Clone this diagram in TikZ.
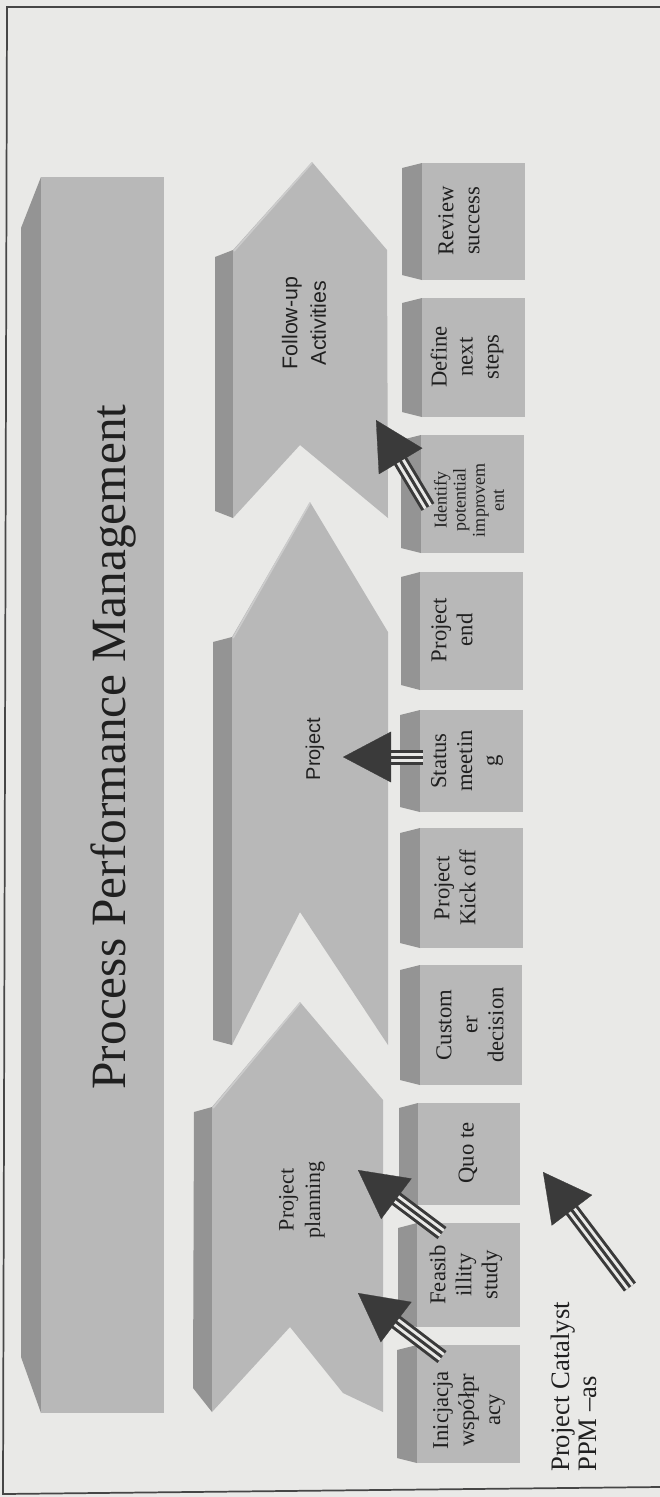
\documentclass[tikz,border=0pt]{standalone}
\usepackage{fontspec}
\setmainfont{Liberation Serif}
\setsansfont{Liberation Sans}
\usetikzlibrary{arrows.meta,calc}
\definecolor{paper}{RGB}{233,233,231}
\definecolor{face}{RGB}{184,184,184}
\definecolor{sideface}{RGB}{148,148,148}
\definecolor{bevel}{RGB}{204,204,204}
\definecolor{ink}{RGB}{58,58,58}
\definecolor{txt}{RGB}{32,32,32}
\definecolor{framecol}{RGB}{70,70,70}

% a striped arrow: three dark stripes in the shaft, solid triangular head
\newcommand\stripedarrow[2]{%
  \coordinate (sa-end) at ($(#2)!30pt!(#1)$);
  \draw[ink, line width=11.25pt] (#1) -- (sa-end);
  \draw[paper, line width=6.75pt] (#1) -- (sa-end);
  \draw[ink, line width=2.25pt] (#1) -- (sa-end);
  \draw[ink, line width=0.2pt, -{Triangle[length=36pt,width=38pt]}] ($(#2)!14pt!(#1)$) -- (#2);
}

\begin{document}
\begin{tikzpicture}[x=0.75pt,y=-0.75pt,
  frontface/.style={fill=face},
  sidefc/.style={fill=sideface},
  bevelline/.style={draw=bevel, line width=1.2pt},
  boxlabel/.style={rotate=90, align=center, text=txt, inner sep=0pt,
    font=\fontsize{17}{19.5}\selectfont},
  smalllabel/.style={boxlabel, font=\fontsize{13.5}{14.3}\selectfont},
  chevlabel/.style={rotate=90, align=center, text=txt, inner sep=0pt,
    font=\fontsize{16.5}{20}\selectfont},
]
% page
\fill[paper] (0,0) rectangle (660,1497);
\useasboundingbox (0,0) rectangle (660,1497);
\draw[framecol, line width=1.3pt] (660,7) -- (7,7) -- (3,1494) -- (660,1487);

% ---- Process Performance Management bar
\fill[sidefc] (21,228) -- (41,177) -- (41,1413) -- (21,1357) -- cycle;
\fill[frontface] (41,177) rectangle (164,1413);
\node[rotate=90, text=txt, inner sep=0pt, font=\fontsize{37}{40}\selectfont]
  (ppm) at (113,747) {Process Performance Management};

% ---- Follow-up Activities chevron
\fill[sidefc] (215,257) -- (233,250) -- (233,518) -- (215,511) -- cycle;
\fill[frontface] (312,162) -- (387,250) -- (388,518) -- (300,445) -- (233,518) -- (233,250) -- cycle;
\draw[bevelline] (312,163) -- (234,251);
\node[chevlabel, font=\sffamily\fontsize{16}{21.5}\selectfont] (fup) at (304,323) {Follow-up\\Activities};

% ---- Project chevron
\fill[sidefc] (213,642) -- (232,637) -- (232,1045) -- (213,1040) -- cycle;
\fill[frontface] (310,502) -- (388,632) -- (388,1045) -- (300,912) -- (232,1045) -- (232,637) -- cycle;
\draw[bevelline] (310,503) -- (233,638);
\node[chevlabel, font=\sffamily\fontsize{15}{18}\selectfont] (prj) at (315,749) {Project};

% ---- Project planning chevron
\fill[sidefc] (194,1112) -- (212,1107) -- (212,1412) -- (193,1388) -- cycle;
\fill[frontface] (300,1002) -- (383,1100) -- (383,1412) -- (343,1393) -- (290,1327) -- (212,1412) -- (212,1107) -- cycle;
\draw[bevelline] (300,1003) -- (213,1108);
\node[chevlabel] (ppl) at (302,1200) {Project\\planning};

% ---- step boxes: side face, front face
\foreach \ya/\yb/\xs/\xf/\xr in {163/280/402/422/525, 298/417/402/422/525, 435/553/401/421/524,
    572/690/401/420/523, 710/812/400/420/523, 828/948/400/420/523, 965/1085/400/420/522,
    1103/1205/399/418/520, 1223/1327/398/417/520, 1345/1463/397/417/520}{
  \fill[sidefc] (\xs,\ya+5) -- (\xf,\ya) -- (\xf,\yb) -- (\xs,\yb-5) -- cycle;
  \fill[frontface] (\xf,\ya) rectangle (\xr,\yb);
}
\node[boxlabel] (rev) at (459,221) {Review\\success};
\node[boxlabel] (def) at (467,357) {Define\\next\\steps};
\node[smalllabel] (idt) at (469,500) {Identify\\potential\\improvem\\ent};
\node[boxlabel] (pend) at (452,630) {Project\\end};
\node[boxlabel] (stat) at (467,761) {Status\\meetin\\g};
\node[boxlabel] (kick) at (455,888) {Project\\Kick off};
\node[boxlabel] (cust) at (470,1025) {Custom\\er\\decision};
\node[boxlabel] (quo) at (468,1153) {Quo te};
\node[boxlabel] (fea) at (466,1275) {Feasib\\illity\\study};
\node[boxlabel] (ini) at (469,1410) {Inicjacja\\współpr\\acy};

% ---- caption
\node[rotate=90, anchor=west, align=left, text=txt, inner sep=0pt,
  font=\fontsize{20}{20.5}\selectfont] (cat) at (574,1472) {Project Catalyst\\PPM --as};

% ---- arrows
\coordinate (a1s) at (442,1357); \coordinate (a1t) at (358,1293);
\coordinate (a2s) at (442,1233); \coordinate (a2t) at (358,1170);
\coordinate (a3s) at (423,757);  \coordinate (a3t) at (343,757);
\coordinate (a4s) at (428,507);  \coordinate (a4t) at (376,420);
\coordinate (a5s) at (630,1287); \coordinate (a5t) at (543,1172);
\stripedarrow{a1s}{a1t}
\stripedarrow{a2s}{a2t}
\stripedarrow{a3s}{a3t}
\stripedarrow{a4s}{a4t}
\stripedarrow{a5s}{a5t}
\end{tikzpicture}
\end{document}
